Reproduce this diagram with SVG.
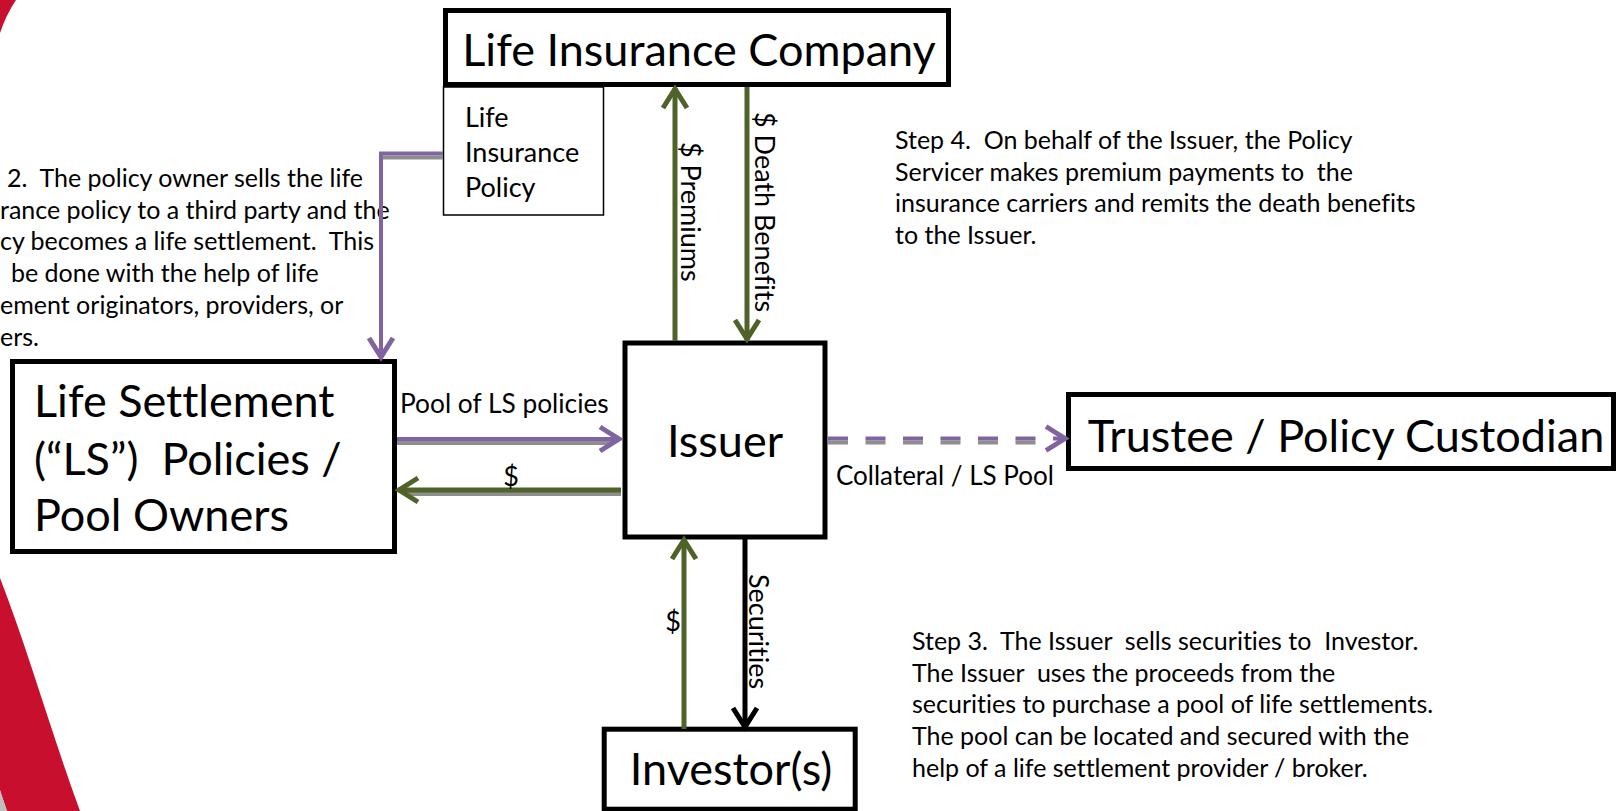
<svg xmlns="http://www.w3.org/2000/svg" width="1623" height="811" viewBox="0 0 1623 811">
<style>
text{font-variant-ligatures:none}
.box{fill:#fff;stroke:#000;stroke-width:5}
.thin{fill:#fff;stroke:#000;stroke-width:1.5}
.big{font-family:Lato,"Liberation Sans",sans-serif;font-size:45px;fill:#000}
.sm{font-family:Lato,"Liberation Sans",sans-serif;font-size:25px;fill:#000;white-space:pre}
.lbl{font-family:Lato,"Liberation Sans",sans-serif;font-size:27px;fill:#000}
.pur{fill:none;stroke:#8064a2;stroke-width:4}
.grn{fill:none;stroke:#4f6228;stroke-width:5}
.blk{fill:none;stroke:#000;stroke-width:5}
.shd{fill:none;stroke:#8e8e8e;stroke-width:4}
.dash{stroke-dasharray:20 17.5}
</style>
<defs>
<marker id="ap" markerUnits="userSpaceOnUse" markerWidth="34" markerHeight="30" viewBox="0 0 34 30" refX="25" refY="15" orient="auto" overflow="visible"><path d="M5,3 L24,15 L5,27" fill="none" stroke="#8064a2" stroke-width="5"/></marker>
<marker id="ag" markerUnits="userSpaceOnUse" markerWidth="34" markerHeight="30" viewBox="0 0 34 30" refX="25" refY="15" orient="auto" overflow="visible"><path d="M5,3 L24,15 L5,27" fill="none" stroke="#4f6228" stroke-width="5"/></marker>
<marker id="ak" markerUnits="userSpaceOnUse" markerWidth="34" markerHeight="30" viewBox="0 0 34 30" refX="25" refY="15" orient="auto" overflow="visible"><path d="M5,3 L24,15 L5,27" fill="none" stroke="#000" stroke-width="5"/></marker>
</defs>

<g id="decoration">
<path d="M0,578 C28,650 52,735 80,811 L7,811 Q3,800 0,790 Z" fill="#c8102e"/>
<path d="M0,790 Q3,800 7,811 L0,811 Z" fill="#bfbfbf"/>
<path d="M0,0 L16,0 Q6,15 0,33 Z" fill="#c8102e"/>
</g>

<g id="step2-text" class="sm">
<text xml:space="preserve" x="7" y="187">2.  The policy owner sells the life</text>
<text xml:space="preserve" x="0" y="218.7">rance policy to a third party and the</text>
<text xml:space="preserve" x="0" y="250.4">cy becomes a life settlement.  This</text>
<text xml:space="preserve" x="11" y="282.1">be done with the help of life</text>
<text xml:space="preserve" x="0" y="313.8">ement originators, providers, or</text>
<text xml:space="preserve" x="0" y="345.5">ers.</text>
</g>

<g id="step4-text" class="sm">
<text xml:space="preserve" x="895" y="149">Step 4.  On behalf of the Issuer, the Policy</text>
<text xml:space="preserve" x="895" y="180.7">Servicer makes premium payments to  the</text>
<text xml:space="preserve" x="895" y="212.4">insurance carriers and remits the death benefits</text>
<text xml:space="preserve" x="895" y="244.1">to the Issuer.</text>
</g>

<g id="step3-text" class="sm">
<text xml:space="preserve" x="912" y="650">Step 3.  The Issuer  sells securities to  Investor.</text>
<text xml:space="preserve" x="912" y="681.7">The Issuer  uses the proceeds from the</text>
<text xml:space="preserve" x="912" y="713.4">securities to purchase a pool of life settlements.</text>
<text xml:space="preserve" x="912" y="745.1">The pool can be located and secured with the</text>
<text xml:space="preserve" x="912" y="776.8">help of a life settlement provider / broker.</text>
</g>

<g id="life-insurance-company">
<rect class="box" x="445.5" y="10.5" width="503" height="74"/>
<text class="big" x="699" y="66" text-anchor="middle">Life Insurance Company</text>
</g>

<g id="life-insurance-policy">
<rect class="thin" x="443.5" y="87" width="160" height="128"/>
<text class="lbl" x="465" y="127">Life</text>
<text class="lbl" x="465" y="162">Insurance</text>
<text class="lbl" x="465" y="197">Policy</text>
</g>

<g id="ls-owners">
<rect class="box" x="12.5" y="361.5" width="382" height="190"/>
<text class="big" x="34" y="417">Life Settlement</text>
<text class="big" x="34" y="475" xml:space="preserve">(“LS”)  Policies /</text>
<text class="big" x="34" y="531">Pool Owners</text>
</g>

<g id="issuer">
<rect class="box" x="625" y="343" width="200" height="194"/>
<text class="big" x="725" y="457" text-anchor="middle">Issuer</text>
</g>

<g id="trustee">
<rect class="box" x="1068.5" y="394.5" width="545" height="74"/>
<text class="big" x="1346" y="452" text-anchor="middle">Trustee / Policy Custodian</text>
</g>

<g id="investors">
<rect class="box" x="604.2" y="729.2" width="251" height="80"/>
<text class="big" x="731" y="785" text-anchor="middle">Investor(s)</text>
</g>

<g id="connectors">
<path class="shd" d="M443,157.5 L383,157.5"/>
<path class="pur" d="M443,153.5 L381,153.5 L381,358" marker-end="url(#ap)"/>

<path class="shd" d="M397,443 L612,443"/>
<path class="pur" d="M397,439 L620,439" marker-end="url(#ap)"/>

<path class="shd" d="M621,494 L405,494"/>
<path class="grn" d="M621,490 L398,490" marker-end="url(#ag)"/>

<path class="grn" d="M675,341 L675,88" marker-end="url(#ag)"/>
<path class="grn" d="M747,87 L747,340" marker-end="url(#ag)"/>

<path class="shd dash" d="M828,442.5 L1045,442.5"/>
<path class="pur dash" d="M828,438.5 L1066,438.5" marker-end="url(#ap)"/>

<path class="grn" d="M684,729 L684,539" marker-end="url(#ag)"/>
<path class="blk" d="M745,539 L745,728" marker-end="url(#ak)"/>

<text class="lbl" x="400" y="413" style="font-size:26.3px">Pool of LS policies</text>
<text class="lbl" x="511" y="486" text-anchor="middle">$</text>
<text class="lbl" transform="translate(681,142) rotate(90)">$ Premiums</text>
<text class="lbl" transform="translate(755,112) rotate(90)">$ Death Benefits</text>
<text class="lbl" transform="translate(749,574) rotate(90)">Securities</text>
<text class="lbl" x="673" y="631" text-anchor="middle">$</text>
<text class="lbl" x="836" y="485" style="font-size:26px">Collateral / LS Pool</text>
</g>
</svg>
